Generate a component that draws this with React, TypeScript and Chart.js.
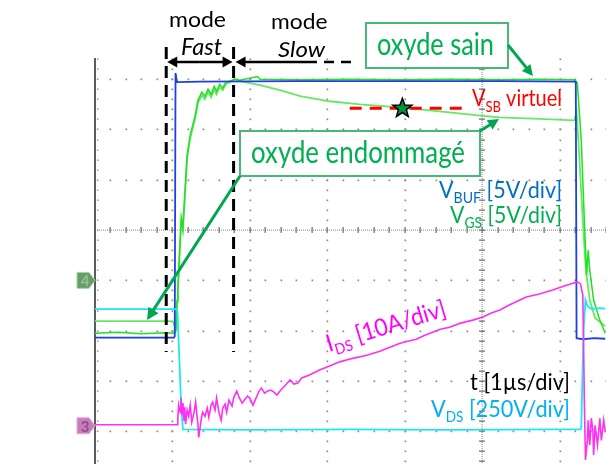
import React, { useEffect, useRef } from "react";
import { Chart, registerables } from "chart.js";
Chart.register(...registerables);

// Oscilloscope capture: time in µs (1 µs/div) from the left edge of the screen,
// amplitudes in graticule divisions (0 = centre line).
const vBuf: number[][] = [
  [0, -2.14], [1.02, -2.14], [1.03, -2.11], [1.04, 3.12], [1.06, 2.94], [1.36, 2.95],
  [2.65, 2.96], [3.94, 2.96], [5.23, 2.96], [6.21, 2.95], [6.22, -2.15], [6.3, -2.17],
  [6.45, -2.15], [6.59, -2.16],
];
const vGsSain: number[][] = [
  [0, -2.05], [0.3, -2.03], [0.6, -2.06], [0.9, -2.04], [1.02, -2.05], [1.045, -2.01],
  [1.06, -1.39], [1.07, -1.19], [1.1, -0.2], [1.115, 0.24], [1.135, 0.04], [1.16, 0.7],
  [1.19, 1.49], [1.23, 1.89], [1.29, 2.25], [1.33, 2.58], [1.38, 2.74], [1.42, 2.66],
  [1.46, 2.8], [1.5, 2.7], [1.54, 2.86], [1.57, 2.76], [1.61, 2.9], [1.65, 2.82],
  [1.69, 2.94], [1.74, 2.96], [1.81, 3.0], [1.87, 2.98], [2.1, 3.05], [2.13, 3.0],
  [2.65, 2.99], [3.29, 3.0], [3.94, 2.99], [4.58, 3.0], [5.23, 2.99], [5.74, 3.0],
  [6.19, 2.99], [6.23, 2.92], [6.28, 1.79], [6.32, 0.2], [6.35, -0.9], [6.37, -0.4],
  [6.39, -0.8], [6.44, -1.39], [6.52, -1.79], [6.59, -2.05],
];
const vGsEndommage: number[][] = [
  [0, -1.81], [0.97, -1.81], [1.01, -1.83], [1.03, -1.91], [1.045, -1.95], [1.06, -1.43],
  [1.07, -1.23], [1.1, -0.24], [1.115, 0.2], [1.135, 0.0], [1.16, 0.66], [1.19, 1.43],
  [1.23, 1.83], [1.29, 2.19], [1.33, 2.53], [1.38, 2.68], [1.42, 2.6], [1.46, 2.74],
  [1.5, 2.64], [1.54, 2.8], [1.57, 2.7], [1.61, 2.84], [1.65, 2.78], [1.69, 2.9],
  [1.74, 2.94], [1.81, 3.0], [1.87, 2.96], [2.0, 2.92], [2.13, 2.88], [2.39, 2.78],
  [2.65, 2.66], [3.03, 2.56], [3.42, 2.5], [3.94, 2.44], [4.45, 2.36], [5.01, 2.27],
  [5.23, 2.24], [5.74, 2.21], [6.19, 2.18], [6.22, 2.35], [6.25, 1.59], [6.3, 0.2],
  [6.34, -0.8], [6.39, -1.39], [6.46, -1.75], [6.59, -1.91],
];
const vDs: number[][] = [
  [0, -1.57], [1.045, -1.57], [1.065, -1.61], [1.08, -2.19], [1.11, -3.38], [1.135, -3.96],
  [2.0, -3.97], [3.29, -3.96], [4.58, -3.97], [5.87, -3.96], [6.27, -3.96], [6.28, -3.94],
  [6.31, -1.99], [6.335, -1.39], [6.36, -1.51], [6.41, -1.57], [6.52, -1.55], [6.59, -1.56],
];
const iDs: number[][] = [
  [0, -3.87], [1.06, -3.87], [1.07, -3.74], [1.08, -3.48], [1.1, -3.62], [1.11, -3.34],
  [1.12, -3.68], [1.135, -3.44], [1.15, -3.78], [1.16, -3.52], [1.17, -3.86], [1.19, -3.58],
  [1.21, -3.7], [1.23, -3.48], [1.25, -3.82], [1.28, -3.62], [1.3, -3.42], [1.33, -3.88],
  [1.34, -4.12], [1.37, -3.78], [1.39, -3.62], [1.42, -3.7], [1.45, -3.54], [1.47, -3.72],
  [1.5, -3.48], [1.52, -3.42], [1.55, -3.58], [1.57, -3.34], [1.6, -3.62], [1.63, -3.78],
  [1.65, -3.54], [1.68, -3.46], [1.7, -3.62], [1.73, -3.38], [1.77, -3.5], [1.79, -3.34],
  [1.83, -3.2], [1.86, -3.32], [1.9, -3.44], [1.94, -3.36], [1.97, -3.3], [2.0, -3.34],
  [2.04, -3.48], [2.08, -3.34], [2.12, -3.2], [2.15, -3.14], [2.19, -3.24], [2.23, -3.2],
  [2.27, -3.18], [2.31, -3.22], [2.35, -3.28], [2.4, -3.18], [2.45, -3.1], [2.52, -2.98],
  [2.57, -3.06], [2.62, -3.04], [2.67, -2.94], [2.77, -2.88], [2.9, -2.78], [3.03, -2.7],
  [3.16, -2.62], [3.33, -2.55], [3.51, -2.49], [3.68, -2.41], [3.81, -2.33], [3.94, -2.25],
  [4.04, -2.21], [4.15, -2.17], [4.26, -2.09], [4.36, -2.03], [4.46, -1.97], [4.58, -1.93],
  [4.72, -1.85], [4.88, -1.79], [5.01, -1.73], [5.12, -1.65], [5.23, -1.59], [5.35, -1.49],
  [5.46, -1.41], [5.57, -1.33], [5.74, -1.27], [5.91, -1.19], [6.06, -1.11], [6.23, -1.03],
  [6.27, -1.07], [6.3, -1.29], [6.31, -2.19], [6.32, -3.38], [6.335, -4.57], [6.36, -4.18],
  [6.37, -3.78], [6.39, -4.27], [6.41, -3.74], [6.43, -3.98], [6.44, -4.47], [6.46, -3.88],
  [6.49, -4.27], [6.52, -3.74], [6.54, -4.18], [6.57, -3.78], [6.59, -4.02],
];
// Annotation anchors (data units)
const modeSwitchT = [0.92, 1.79];
const vsbLine = { t0: 3.29, t1: 4.84, v: 2.42 };
const starPoint = { t: 3.97, v: 2.42 };
const groundMarks = [
  { label: "4", v: -1.0 },
  { label: "3", v: -3.89 },
];
const gridCols = [1, 2, 3, 4, 6];
const gridRows = [-4, -3, -2, -1, 1, 2, 3];

const FONT = "Lato, 'Open Sans', sans-serif";

type Seg = { t: string; sub?: boolean };
function drawRich(
  ctx: CanvasRenderingContext2D, segs: Seg[], x: number, y: number,
  o: { size: number; sub?: number; drop?: number; color: string; width?: number; italic?: boolean; rot?: number }
) {
  const subSize = o.sub ?? Math.round(o.size * 0.64);
  const drop = o.drop ?? Math.round(o.size * 0.25);
  const f = (s: number) => `${o.italic ? "italic " : ""}${s}px ${FONT}`;
  let nat = 0;
  for (const s of segs) {
    ctx.font = f(s.sub ? subSize : o.size);
    nat += ctx.measureText(s.t).width;
  }
  const sx = o.width ? o.width / nat : 1;
  ctx.save();
  ctx.translate(x, y);
  if (o.rot) ctx.rotate(o.rot);
  ctx.scale(sx, 1);
  ctx.fillStyle = o.color;
  ctx.textBaseline = "alphabetic";
  ctx.textAlign = "left";
  let cx = 0;
  for (const s of segs) {
    ctx.font = f(s.sub ? subSize : o.size);
    ctx.fillText(s.t, cx, s.sub ? drop : 0);
    cx += ctx.measureText(s.t).width;
  }
  ctx.restore();
}

function arrow(ctx: CanvasRenderingContext2D, x1: number, y1: number, x2: number, y2: number,
  color: string, lw: number, hl: number, hw: number, dash: number[] = []) {
  const a = Math.atan2(y2 - y1, x2 - x1);
  ctx.save();
  ctx.strokeStyle = color;
  ctx.fillStyle = color;
  ctx.lineWidth = lw;
  ctx.setLineDash(dash);
  ctx.beginPath();
  ctx.moveTo(x1, y1);
  ctx.lineTo(x2 - Math.cos(a) * hl * 0.8, y2 - Math.sin(a) * hl * 0.8);
  ctx.stroke();
  ctx.setLineDash([]);
  ctx.beginPath();
  ctx.moveTo(x2, y2);
  ctx.lineTo(x2 - Math.cos(a) * hl - Math.sin(a) * hw, y2 - Math.sin(a) * hl + Math.cos(a) * hw);
  ctx.lineTo(x2 - Math.cos(a) * hl + Math.sin(a) * hw, y2 - Math.sin(a) * hl - Math.cos(a) * hw);
  ctx.closePath();
  ctx.fill();
  ctx.restore();
}

const graticule = {
  id: "graticule",
  beforeDatasetsDraw(chart: any) {
    const { ctx, chartArea: a, scales } = chart;
    const xs = scales.x, ys = scales.y;
    ctx.save();
    ctx.fillStyle = "#8a8a8a";
    const kMin = Math.ceil(ys.min * 5), kMax = Math.floor(ys.max * 5);
    for (const c of gridCols) {
      const px = Math.round(xs.getPixelForValue(c));
      for (let k = kMin; k <= kMax; k++) {
        const py = Math.round(ys.getPixelForValue(k / 5));
        ctx.fillRect(px - 0.5, py - 0.5, 1.7, 1.7);
      }
    }
    const jMax = Math.floor(xs.max * 5);
    for (const r of gridRows) {
      const py = Math.round(ys.getPixelForValue(r));
      for (let j = 0; j <= jMax; j++) {
        const px = Math.round(xs.getPixelForValue(j / 5));
        ctx.fillRect(px - 0.5, py - 0.5, 1.7, 1.7);
      }
    }
    // centre axes
    const cy = Math.round(ys.getPixelForValue(0));
    const cx = Math.round(xs.getPixelForValue(5));
    ctx.fillStyle = "#a0a0a0";
    for (let px = a.left; px < a.right; px += 2) ctx.fillRect(px, cy - 0.5, 1, 1.3);
    for (let py = a.top; py < a.bottom; py += 2) ctx.fillRect(cx - 0.5, py, 1.3, 1);
    ctx.fillStyle = "#777";
    for (let j = 0; j <= jMax; j++) {
      const px = Math.round(xs.getPixelForValue(j / 5));
      ctx.fillRect(px - 0.5, cy - 3, 1.3, 6);
    }
    for (let k = kMin; k <= kMax; k++) {
      const py = Math.round(ys.getPixelForValue(k / 5));
      ctx.fillRect(cx - 3, py - 0.5, 6, 1.3);
    }
    // left frame
    ctx.fillStyle = "#5c5c5c";
    ctx.fillRect(a.left - 1, a.top, 2, a.bottom - a.top);
    ctx.fillStyle = "#8a8a8a";
    for (let k = kMin; k <= kMax; k++) {
      const py = Math.round(ys.getPixelForValue(k / 5));
      ctx.fillRect(a.left + 2, py - 0.5, 1.5, 1.3);
    }
    ctx.restore();
  },
};

const overlay = {
  id: "overlay",
  afterDatasetsDraw(chart: any) {
    const { ctx, chartArea: a, scales } = chart;
    const X = (t: number) => scales.x.getPixelForValue(t);
    const Y = (v: number) => scales.y.getPixelForValue(v);
    ctx.save();

    // ground markers
    const flagStyles = [
      { fill: "#6a9a6a", stroke: "#9be09b", text: "#8fc48f" },
      { fill: "#c97cbc", stroke: "#e7a8de", text: "#8c4f83" },
    ];
    groundMarks.forEach((g, i) => {
      const st = flagStyles[i];
      const yc = Y(g.v), xr = a.left;
      ctx.beginPath();
      ctx.moveTo(xr - 18, yc - 8);
      ctx.lineTo(xr - 6, yc - 8);
      ctx.lineTo(xr, yc);
      ctx.lineTo(xr - 6, yc + 8);
      ctx.lineTo(xr - 18, yc + 8);
      ctx.closePath();
      ctx.fillStyle = st.fill;
      ctx.fill();
      ctx.strokeStyle = st.stroke;
      ctx.lineWidth = 1;
      ctx.stroke();
      ctx.fillStyle = st.text;
      ctx.font = `bold 15px ${FONT}`;
      ctx.textAlign = "center";
      ctx.textBaseline = "middle";
      ctx.fillText(g.label, xr - 10, yc + 1);
    });

    // mode boundaries
    ctx.strokeStyle = "#000";
    ctx.lineWidth = 3;
    ctx.setLineDash([12, 7]);
    for (const t of modeSwitchT) {
      ctx.beginPath();
      ctx.moveTo(X(t), 47);
      ctx.lineTo(X(t), 352);
      ctx.stroke();
    }
    ctx.setLineDash([]);
    const xa = X(modeSwitchT[0]), xb = X(modeSwitchT[1]);
    const ay = 62;
    arrow(ctx, (xa + xb) / 2, ay, xa + 1, ay, "#000", 2.5, 10, 5.5);
    arrow(ctx, (xa + xb) / 2, ay, xb - 1, ay, "#000", 2.5, 10, 5.5);
    arrow(ctx, 307, ay, xb + 2, ay, "#000", 2.5, 10, 5.5);
    ctx.strokeStyle = "#000";
    ctx.lineWidth = 2.5;
    ctx.setLineDash([10, 7]);
    ctx.beginPath();
    ctx.moveTo(307, ay);
    ctx.lineTo(355, ay);
    ctx.stroke();
    ctx.setLineDash([]);

    // virtual V_SB line + star
    ctx.strokeStyle = "#ff0000";
    ctx.lineWidth = 3;
    ctx.setLineDash([12, 8]);
    ctx.beginPath();
    ctx.moveTo(X(vsbLine.t0), Y(vsbLine.v));
    ctx.lineTo(X(vsbLine.t1), Y(vsbLine.v));
    ctx.stroke();
    ctx.setLineDash([]);
    const sx = X(starPoint.t), sy = Y(starPoint.v);
    ctx.beginPath();
    for (let i = 0; i < 10; i++) {
      const ang = -Math.PI / 2 + (i * Math.PI) / 5;
      const r = i % 2 ? 4.2 : 10;
      const px = sx + Math.cos(ang) * r, py = sy + Math.sin(ang) * r;
      if (i === 0) ctx.moveTo(px, py); else ctx.lineTo(px, py);
    }
    ctx.closePath();
    ctx.fillStyle = "#00913f";
    ctx.fill();
    ctx.strokeStyle = "#000";
    ctx.lineWidth = 1.5;
    ctx.stroke();

    // boxes
    const boxStroke = "#47b877";
    const green = "#00b050";
    const arrowGreen = "#00a651";
    ctx.fillStyle = "#fff";
    ctx.strokeStyle = boxStroke;
    ctx.lineWidth = 2;
    ctx.fillRect(366, 23, 142, 45);
    ctx.strokeRect(366, 23, 142, 45);
    ctx.fillRect(240, 131, 240, 45);
    ctx.strokeRect(240, 131, 240, 45);
    arrow(ctx, 508, 45, 533, 76, arrowGreen, 3, 11, 5.5);
    arrow(ctx, 240, 176, 147, 320, arrowGreen, 3, 12, 6);
    arrow(ctx, 480, 131, 499, 119, arrowGreen, 3, 11, 5.5);

    // texts
    drawRich(ctx, [{ t: "mode" }], 169, 27, { size: 21, color: "#000", width: 57 });
    drawRich(ctx, [{ t: "Fast" }], 181, 55, { size: 23, color: "#000", width: 41, italic: true });
    drawRich(ctx, [{ t: "mode" }], 271, 28.5, { size: 21, color: "#000", width: 56.5 });
    drawRich(ctx, [{ t: "Slow" }], 278, 57, { size: 22, color: "#000", width: 47, italic: true });
    drawRich(ctx, [{ t: "oxyde sain" }], 377, 55, { size: 31, color: green, width: 117 });
    drawRich(ctx, [{ t: "oxyde endommagé" }], 251, 163, { size: 31, color: green, width: 214 });
    drawRich(ctx, [{ t: "V" }, { t: "SB", sub: true }, { t: " virtuel" }], 472, 106,
      { size: 23, sub: 15, drop: 6, color: "#ff0000", width: 90 });
    drawRich(ctx, [{ t: "V" }, { t: "BUF", sub: true }, { t: " [5V/div]" }], 439, 197.5,
      { size: 23, sub: 15, drop: 5, color: "#0070c0", width: 123 });
    drawRich(ctx, [{ t: "V" }, { t: "GS", sub: true }, { t: " [5V/div]" }], 450, 223,
      { size: 23, sub: 15, drop: 5, color: green, width: 112 });
    drawRich(ctx, [{ t: "I" }, { t: "DS", sub: true }, { t: " [10A/div]" }], 329, 352,
      { size: 24, sub: 15, drop: 5, color: "#ff00ff", width: 124, rot: -17 * Math.PI / 180 });
    drawRich(ctx, [{ t: "t [1µs/div]" }], 470, 390, { size: 24, color: "#000", width: 100 });
    drawRich(ctx, [{ t: "V" }, { t: "DS", sub: true }, { t: " [250V/div]" }], 431, 417,
      { size: 24, sub: 15, drop: 5, color: "#00b0f0", width: 139 });
    ctx.restore();
  },
};

const toXY = (arr: number[][]) => arr.map(([x, y]) => ({ x, y }));

export default function App() {
  const ref = useRef<HTMLCanvasElement>(null);
  useEffect(() => {
    const chart = new Chart(ref.current as HTMLCanvasElement, {
      type: "line",
      data: {
        datasets: [
          { label: "IDS", data: toXY(iDs), borderColor: "#ff30f0", borderWidth: 1.6 },
          { label: "VDS", data: toXY(vDs), borderColor: "#1ee6f2", borderWidth: 1.8 },
          { label: "VBUF", data: toXY(vBuf), borderColor: "#1f3fe0", borderWidth: 1.8 },
          { label: "VGS sain", data: toXY(vGsSain), borderColor: "#22e022", borderWidth: 1.5 },
          { label: "VGS endommagé", data: toXY(vGsEndommage), borderColor: "#66e866", borderWidth: 1.8 },
        ],
      },
      options: {
        responsive: false,
        animation: false,
        devicePixelRatio: 1,
        events: [],
        layout: { padding: { left: 95, top: 58, right: 0, bottom: 0 } },
        scales: {
          x: { type: "linear", display: false, min: 0, max: 6.6 },
          y: { type: "linear", display: false, min: -4.65, max: 3.42 },
        },
        elements: { point: { radius: 0 }, line: { tension: 0 } },
        plugins: { legend: { display: false }, tooltip: { enabled: false }, title: { display: false } },
      },
      plugins: [graticule, overlay],
    } as any);
    return () => chart.destroy();
  }, []);
  return (
    <div style={{ position: "absolute", left: 0, top: 0, width: 606, height: 464, background: "#fff" }}>
      <canvas ref={ref} width={606} height={464} style={{ display: "block", width: 606, height: 464 }} />
    </div>
  );
}
